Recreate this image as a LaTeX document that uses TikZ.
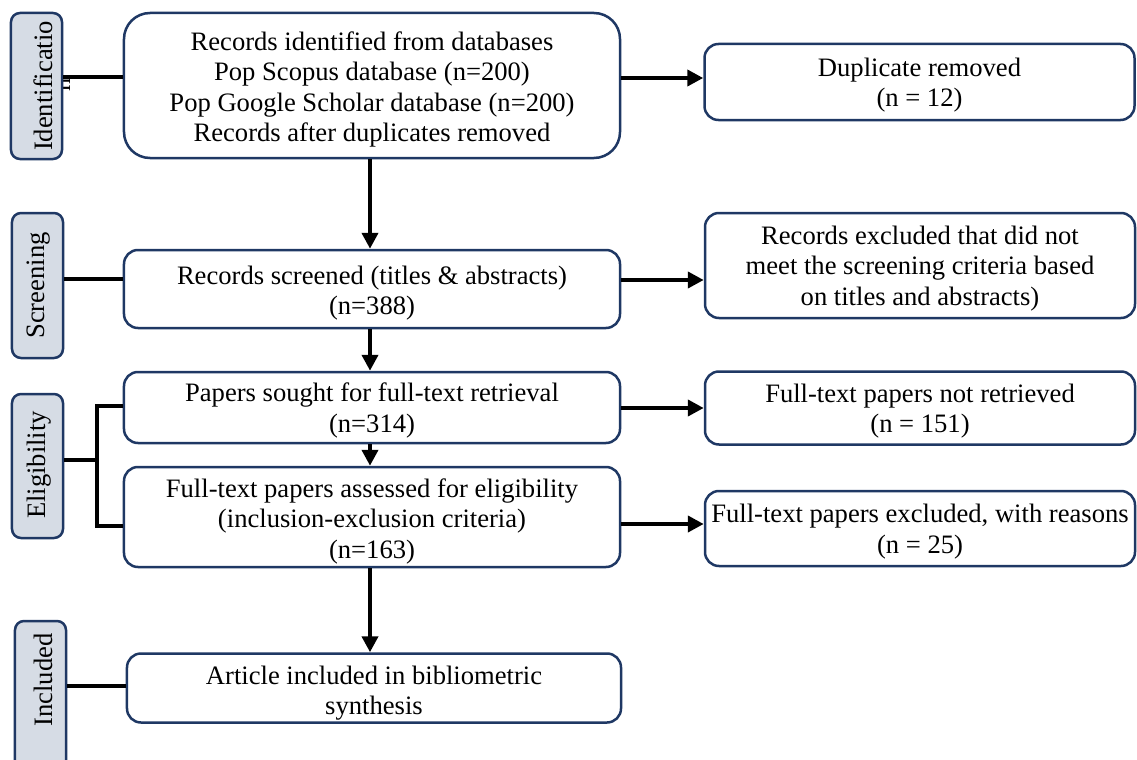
\documentclass[tikz,border=0pt]{standalone}
\usepackage{fontspec}
\setmainfont{Liberation Serif}
\usetikzlibrary{arrows.meta}
\definecolor{navy}{RGB}{31,56,100}
\definecolor{labfill}{RGB}{214,220,229}
\newcommand{\boxfont}{\fontsize{26.6bp}{30.5bp}\selectfont}
\begin{document}
\begin{tikzpicture}[x=1bp,y=-1bp,
  box/.style={draw=navy, line width=2.5bp, rounded corners=14bp, fill=white, inner sep=0pt},
  txt/.style={align=center, inner sep=0pt, font=\boxfont},
  labbox/.style={draw=navy, line width=2.5bp, rounded corners=9bp, fill=labfill, inner sep=0pt, minimum width=51bp},
  labtext/.style={rotate=90, font=\boxfont, inner sep=0pt},
  conn/.style={line width=4bp, black},
  arr/.style={line width=4bp, black, -{Triangle[length=16bp,width=16bp]}}
]
\useasboundingbox (0,0) rectangle (1137,760);
\clip (0,0) rectangle (1137,760);

% main column
\node[box, rounded corners=26bp, minimum width=496bp, minimum height=145bp] (B1) at (372,85.5) {};
\node[txt] (B1t) at ([yshift=-4bp]B1.center)
  {Records identified from databases\\Pop Scopus database (n=200)\\Pop Google Scholar database (n=200)\\Records after duplicates removed};
\node[box, minimum width=496bp, minimum height=78bp] (B2) at (372,289) {};
\node[txt] (B2t) at ([yshift=-4bp]B2.center)
  {Records screened (titles \& abstracts)\\(n=388)};
\node[box, minimum width=496bp, minimum height=71bp] (B3) at (372,407.5) {};
\node[txt] (B3t) at ([yshift=-3bp]B3.center)
  {Papers sought for full-text retrieval\\(n=314)};
\node[box, minimum width=496bp, minimum height=100bp] (B4) at (372,517) {};
\node[txt] (B4t) at ([yshift=-4bp]B4.center)
  {Full-text papers assessed for eligibility\\(inclusion-exclusion criteria)\\(n=163)};
\node[box, minimum width=494bp, minimum height=69bp] (B5) at (374,688) {};
\node[txt] (B5t) at ([yshift=-5bp]B5.center)
  {Article included in bibliometric\\synthesis};

% right column
\node[box, minimum width=430bp, minimum height=76bp] (R1) at (919.5,82) {};
\node[txt] (R1t) at ([yshift=-3bp]R1.center) {Duplicate removed\\(n = 12)};
\node[box, minimum width=430bp, minimum height=105bp] (R2) at (920,265.5) {};
\node[txt] (R2t) at ([yshift=-3bp]R2.center)
  {Records excluded that did not\\meet the screening criteria based\\on titles and abstracts)};
\node[box, minimum width=430bp, minimum height=73bp] (R3) at (920,408) {};
\node[txt] (R3t) at ([yshift=-3bp]R3.center) {Full-text papers not retrieved\\(n = 151)};
\node[box, minimum width=430bp, minimum height=75bp] (R4) at (920,528.5) {};
\node[txt] (R4t) at ([yshift=-3bp]R4.center) {Full-text papers excluded, with reasons\\(n = 25)};

% stage labels
\node[labtext, anchor=base] (nn) at (70,85) {n};
\node[labbox, minimum height=146bp] (L1) at (36.5,86) {};
\node[labtext] (L1t) at (43,86) {Identificatio};
\node[labbox, minimum height=145bp] (L2) at (37.5,285.5) {};
\node[labtext] (L2t) at (39,285.5) {Screening};
\node[labbox, minimum height=144bp] (L3) at (37.5,466) {};
\node[labtext] (L3t) at (39,465) {Eligibility};
\node[labbox, minimum height=179bp] (L4) at (40.5,710.5) {};
\node[labtext] (L4t) at (43,680) {Included};

% label connectors
\coordinate (y1) at (0,77);
\coordinate (y2) at (0,279);
\coordinate (bm) at (97,460);
\coordinate (bt) at (97,406);
\coordinate (bb) at (97,526);
\coordinate (y5) at (0,686);
\draw[conn] (L1.east |- y1) -- (B1.west |- y1);
\draw[conn] (L2.east |- y2) -- (B2.west |- y2);
\draw[conn] (L3.east |- bm) -- (bm);
\draw[conn] (B3.west |- bt) -- (bt) -- (bb) -- (B4.west |- bb);
\draw[conn] (L4.east |- y5) -- (B5.west |- y5);

% vertical arrows
\coordinate (ax) at (370,0);
\draw[arr] (B1.south -| ax) -- (B2.north -| ax);
\draw[arr] (B2.south -| ax) -- (B3.north -| ax);
\draw[arr] (B3.south -| ax) -- (B4.north -| ax);
\draw[arr] (B4.south -| ax) -- (B5.north -| ax);

% horizontal arrows
\coordinate (h1) at (0,78);
\coordinate (h2) at (0,280);
\coordinate (h3) at (0,408);
\coordinate (h4) at (0,524);
\draw[arr] (B1.east |- h1) -- (R1.west |- h1);
\draw[arr] (B2.east |- h2) -- (R2.west |- h2);
\draw[arr] (B3.east |- h3) -- (R3.west |- h3);
\draw[arr] (B4.east |- h4) -- (R4.west |- h4);
\end{tikzpicture}
\end{document}
